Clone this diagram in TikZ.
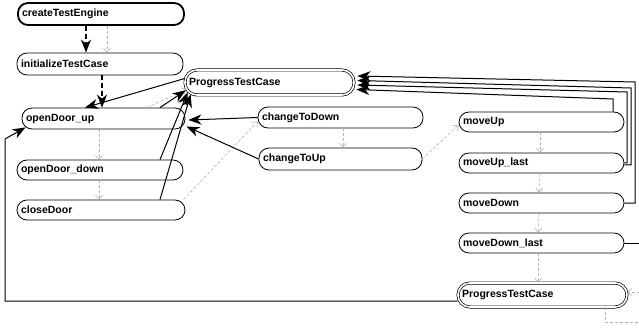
\documentclass[tikz,border=0pt]{standalone}
\usepackage{fontspec}
\setmainfont{Liberation Sans}
\usetikzlibrary{arrows.meta,calc}

\tikzset{
  box/.style={draw, line width=0.8pt, rounded corners=10pt, minimum height=21pt,
    inner xsep=4pt, inner ysep=0pt, text width=#1, align=left,
    font=\bfseries\fontsize{10.5}{12}\selectfont},
  startbox/.style={box=#1, line width=1.8pt},
  dbox/.style={box=#1, line width=0.7pt, double=white, double distance=1.6pt, rounded corners=12pt},
  flow/.style={line width=1pt, -{Stealth[length=13pt,width=10pt,inset=4pt]}},
  init/.style={flow, line width=1.6pt, dash pattern=on 5pt off 3pt},
  seq/.style={draw=black!30, line width=0.6pt, dash pattern=on 3pt off 2pt,
    -{Straight Barb[length=4pt,width=7pt]}},
}

\begin{document}
\begin{tikzpicture}[x=1pt,y=-1pt]
  \fill[white] (0,0) rectangle (639,331);
  \useasboundingbox (0,0) rectangle (639,331);
  \clip (0,0) rectangle (639,331);

  % states
  \node[startbox=158pt, minimum height=22pt] (cte) at (101,14) {createTestEngine};
  \node[box=158pt, minimum height=22pt] (itc) at (100,64) {initializeTestCase};
  \node[dbox=161pt, minimum height=25pt] (ptc1) at (269.5,82.5) {ProgressTestCase};
  \node[box=155pt] (odu) at (103.5,118.5) {openDoor\_up};
  \node[box=158pt, minimum height=20pt] (odd) at (100,170) {openDoor\_down};
  \node[box=160pt, minimum height=20pt] (cd) at (101,210) {closeDoor};
  \node[box=157pt] (ctd) at (340.5,117.5) {changeToDown};
  \node[box=155pt, minimum height=22pt] (ctu) at (340.5,159) {changeToUp};
  \node[box=157pt, minimum height=20pt] (mu) at (541.5,122) {moveUp};
  \node[box=157pt, minimum height=20pt] (mul) at (541.5,163) {moveUp\_last};
  \node[box=157pt, minimum height=20pt] (md) at (541.5,203) {moveDown};
  \node[box=157pt, minimum height=20pt] (mdl) at (541.5,243) {moveDown\_last};
  \node[dbox=161pt, minimum height=24pt] (ptc2) at (542.5,295) {ProgressTestCase};

  % routing points
  \coordinate (r1) at (635,82);
  \coordinate (r2) at (631,88);
  \coordinate (r3) at (627,92);
  \coordinate (r4) at (613,99);
  \coordinate (r5) at (660,243);
  \coordinate (bl1) at (5,301);
  \coordinate (bl2) at (5,139);
  \coordinate (s1) at (605,322);
  \coordinate (s2) at (660,322);
  \coordinate (s3) at (660,292);

  % initial transitions
  \draw[init] ([xshift=-15pt]cte.south) -- ([xshift=-14pt]itc.north);
  \draw[init] ([xshift=2pt]itc.south) -- ([xshift=-1.5pt]odu.north);

  % sequence flow
  \draw[seq] ([xshift=6pt]cte.south) -- ([xshift=7pt]itc.north);
  \draw[seq] ([xshift=-4.5pt]odu.south) -- ([xshift=-1pt]odd.north);
  \draw[seq] ([xshift=-1pt]odd.south) -- ([xshift=-2pt]cd.north);
  \draw[seq] ([xshift=43.5pt]odu.north) -- ([xshift=2pt,yshift=6pt]ptc1.south west);
  \draw[seq] ([xshift=-2pt]cd.north east) -- ([yshift=-4pt]ctd.west);
  \draw[seq] ([xshift=2.5pt]ctd.south) -- ([xshift=2.5pt]ctu.north);
  \draw[seq] (ctu.east) -- ([yshift=-3pt]mu.west);
  \draw[seq] ([xshift=-1.5pt]mu.south) -- ([xshift=-1.5pt]mul.north);
  \draw[seq] ([xshift=-1.5pt]mul.south) -- ([xshift=-2.5pt]md.north);
  \draw[seq] ([xshift=-2.5pt]md.south) -- ([xshift=-3.5pt]mdl.north);
  \draw[seq] ([xshift=-3.5pt]mdl.south) -- ([xshift=-4.5pt]ptc2.north);
  \draw[seq] ([xshift=62.5pt]ptc2.south) -- (s1) -- (s2) -- (s3) -- ([yshift=3pt]ptc2.east);

  % transitions
  \draw[flow] ([yshift=4pt]ptc1.west) -- ([xshift=-18.5pt]odu.north);
  \draw[flow] ([xshift=56.5pt]odu.north) -- ([xshift=1pt,yshift=5pt]ptc1.south west);
  \draw[flow] ([xshift=60pt]odd.north) -- ([xshift=3pt,yshift=3pt]ptc1.south west);
  \draw[flow] ([xshift=59pt]cd.north) -- ([xshift=6pt,yshift=1pt]ptc1.south west);
  \draw[flow] (ctd.west) -- ([xshift=3pt,yshift=-1.5pt]odu.east);
  \draw[flow] (ctu.west) -- ([xshift=1pt,yshift=-8pt]odu.east);
  \draw[flow] (md.east) -| (r1) -- ([xshift=3pt,yshift=6.5pt]ptc1.east);
  \draw[flow] ([yshift=-2pt]mul.east) -| (r2) -- ([xshift=3pt,yshift=2pt]ptc1.east);
  \draw[flow] (mul.east) -| (r3) -- ([xshift=3pt,yshift=-2.5pt]ptc1.east);
  \draw[flow] ([xshift=71.5pt]mu.north) -- (r4) -- ([xshift=2pt,yshift=-7pt]ptc1.east);
  \draw[line width=1pt] (mdl.east) -- (r5);
  \draw[flow] ([yshift=-6pt]ptc2.west) -- (bl1) -- (bl2) -- ([xshift=4pt,yshift=2pt]odu.south west);
\end{tikzpicture}
\end{document}
